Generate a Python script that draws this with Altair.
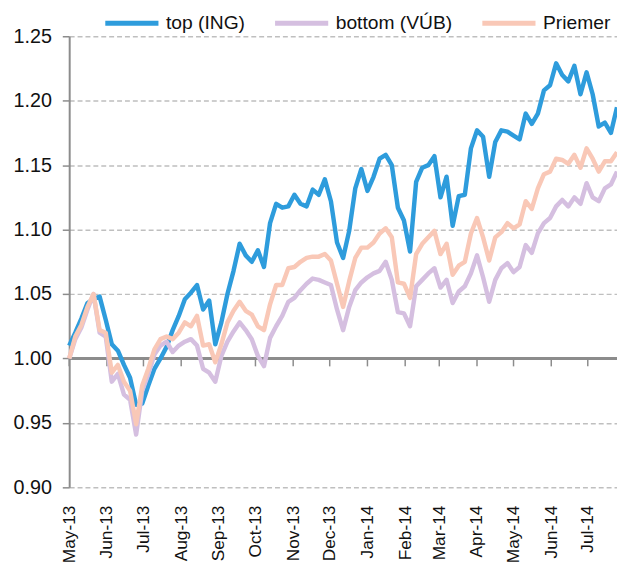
import altair as alt
import pandas as pd

# --- data (5-day sampling, May 2013 - Jul 2014) ---
dates = pd.date_range("2013-05-01", periods=91, freq="5D").strftime("%Y-%m-%d").tolist()

top_ing = [
    1.010, 1.020, 1.031, 1.043, 1.046, 1.048, 1.030, 1.011, 1.006, 0.995,
    0.985, 0.964, 0.965, 0.979, 0.992, 1.000, 1.009, 1.022, 1.033, 1.046,
    1.051, 1.057, 1.038, 1.045, 1.011, 1.028, 1.050, 1.068, 1.089, 1.080,
    1.075, 1.084, 1.071, 1.105, 1.120, 1.117, 1.118, 1.127, 1.120, 1.118,
    1.131, 1.127, 1.139, 1.122, 1.090, 1.078, 1.099, 1.132, 1.147, 1.130,
    1.141, 1.155, 1.158, 1.150, 1.117, 1.107, 1.083, 1.137, 1.148, 1.150,
    1.157, 1.125, 1.141, 1.103, 1.126, 1.127, 1.163, 1.177, 1.172, 1.141,
    1.168, 1.177, 1.176, 1.173, 1.170, 1.190, 1.182, 1.190, 1.208, 1.212,
    1.229, 1.220, 1.215, 1.227, 1.205, 1.222, 1.205, 1.180, 1.183, 1.175,
    1.195,
]

bottom_vub = [
    1.000, 1.015, 1.024, 1.038, 1.050, 1.020, 1.017, 0.982, 0.988, 0.972,
    0.968, 0.941, 0.975, 0.988, 1.003, 1.010, 1.013, 1.005, 1.010, 1.013,
    1.015, 1.010, 0.992, 0.989, 0.982, 1.002, 1.013, 1.021, 1.028, 1.022,
    1.015, 1.002, 0.994, 1.016, 1.025, 1.033, 1.044, 1.047, 1.053, 1.058,
    1.062, 1.061, 1.059, 1.057, 1.038, 1.022, 1.040, 1.053, 1.059, 1.063,
    1.066, 1.068, 1.075, 1.061, 1.036, 1.035, 1.025, 1.056, 1.061, 1.066,
    1.070, 1.055, 1.061, 1.043, 1.052, 1.056, 1.066, 1.080, 1.063, 1.044,
    1.061, 1.070, 1.074, 1.067, 1.071, 1.088, 1.082, 1.097, 1.105, 1.109,
    1.118, 1.123, 1.118, 1.125, 1.120, 1.136, 1.125, 1.122, 1.132, 1.135,
    1.145,
]

priemer = [
    1.000, 1.017, 1.026, 1.040, 1.050, 1.022, 1.020, 0.989, 0.995, 0.982,
    0.975, 0.949, 0.979, 0.992, 1.007, 1.015, 1.017, 1.015, 1.020, 1.028,
    1.025, 1.033, 1.010, 1.011, 0.997, 1.011, 1.028, 1.037, 1.044, 1.037,
    1.034, 1.025, 1.022, 1.042, 1.057, 1.057, 1.070, 1.071, 1.075, 1.078,
    1.079, 1.079, 1.081, 1.076, 1.058, 1.040, 1.060, 1.078, 1.086, 1.086,
    1.090, 1.097, 1.101, 1.094, 1.059, 1.058, 1.047, 1.081, 1.089, 1.094,
    1.099, 1.081, 1.089, 1.065, 1.072, 1.075, 1.097, 1.109, 1.094, 1.076,
    1.094, 1.098, 1.105, 1.101, 1.104, 1.122, 1.116, 1.132, 1.143, 1.145,
    1.155, 1.154, 1.151, 1.158, 1.148, 1.163, 1.155, 1.145, 1.153, 1.153,
    1.160,
]

months = pd.date_range("2013-05-01", "2014-07-01", freq="MS")
y_ticks = [0.90, 0.95, 1.00, 1.05, 1.10, 1.15, 1.20, 1.25]
names = ["top (ING)", "bottom (VÚB)", "Priemer"]
colors = ["#2e9cdc", "#d5bfe0", "#f9c8b7"]

FONT = "Liberation Sans"
AXIS_GRAY = "#8c8c8c"

series_values = [top_ing, bottom_vub, priemer]
long_rows = []
for name, vals in zip(names, series_values):
    for d, v in zip(dates, vals):
        long_rows.append({"date": d, "value": v, "series": name})
df = pd.DataFrame(long_rows)
mdf = pd.DataFrame({"date": months.strftime("%Y-%m-%d").tolist(), "value": [1.0] * len(months)})

xscale = alt.Scale(
    type="utc",
    domain=[alt.DateTime(year=2013, month=5, date=1, utc=True),
            alt.DateTime(year=2014, month=7, date=25, utc=True)],
)
xaxis = alt.Axis(
    values=[alt.DateTime(year=int(d.year), month=int(d.month), date=1, utc=True) for d in months],
    format="%b-%y", labelAngle=270, labelAlign="right", labelBaseline="middle",
    grid=False, ticks=False, domain=False, labelPadding=18, labelFontSize=17.5,
    labelFont=FONT, labelColor="#111111", labelOverlap=False, labelFlush=False, title=None,
)
yscale = alt.Scale(domain=[0.90, 1.25], nice=False, zero=False)
yaxis = alt.Axis(
    values=y_ticks, format=".2f", grid=True, gridDash=[5, 3], gridColor="#bfbfbf",
    gridWidth=1.5, domainColor=AXIS_GRAY, domainWidth=2, tickColor=AXIS_GRAY,
    tickSize=7, tickWidth=1.5, labelFontSize=20, labelFont=FONT, labelColor="#111111",
    labelPadding=11, title=None,
)
cscale = alt.Scale(domain=names, range=colors)
legend = alt.Legend(
    orient="none", legendX=34, legendY=-43, direction="horizontal", title=None,
    symbolType="stroke", symbolSize=2900, symbolStrokeWidth=5, labelFontSize=19.5,
    labelFont=FONT, labelColor="#111111", labelOffset=5, columnPadding=19,
)

X = alt.X("date:T", scale=xscale, axis=xaxis)
Y = alt.Y("value:Q", scale=yscale, axis=yaxis)

# solid line at 1.00 and the month tick marks hanging from it
rule_one = alt.Chart(mdf).mark_rule(color=AXIS_GRAY, strokeWidth=2).encode(y=Y)
month_ticks = alt.Chart(mdf).mark_rule(color=AXIS_GRAY, strokeWidth=1.5, y2Offset=8).encode(
    x=X, y=Y, y2="value:Q"
)

layers = [rule_one, month_ticks]
for i, name in enumerate(names):
    layers.append(
        alt.Chart(df).transform_filter(alt.datum.series == name)
        .mark_line(strokeWidth=4.5, strokeJoin="round")
        .encode(
            x=X,
            y=Y,
            color=alt.Color("series:N", scale=cscale, legend=legend if i == 0 else None),
        )
    )

chart = alt.layer(*layers).properties(
    width=555,
    height=457,
    autosize=alt.AutoSizeParams(type="none"),
    padding={"left": 62, "top": 25, "right": 0, "bottom": 73},
    background="white",
).configure_view(stroke=None)

chart.save("out.html", embed_options={"renderer": "svg", "actions": False})
